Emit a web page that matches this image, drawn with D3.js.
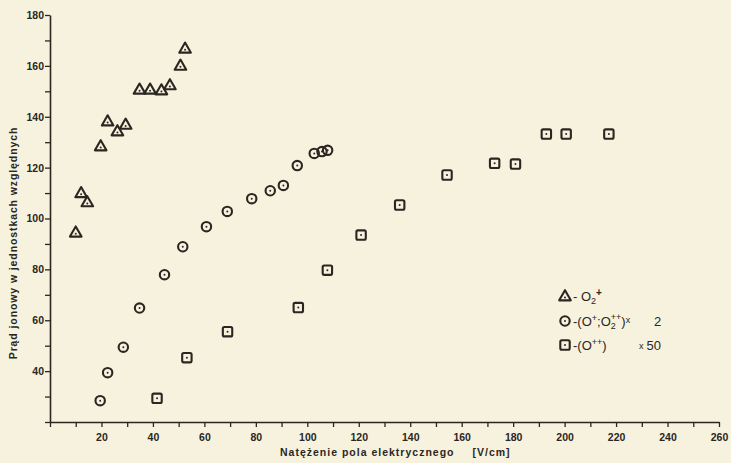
<!DOCTYPE html>
<html><head><meta charset="utf-8">
<script src="https://cdn.jsdelivr.net/npm/d3@7"></script>
<style>
html,body{margin:0;padding:0;background:#f7f2de;}
svg{display:block;}
</style></head>
<body>
<svg id="chart" width="731" height="463"></svg>
<script>
// O2+ (triangles)
const triX = [10, 12.1, 14.5, 19.7, 22.4, 26.2, 29.4, 34.8, 38.9, 43.3, 46.6, 50.7, 52.5];
const triY = [94.6, 110.1, 106.5, 128.5, 138.3, 134.4, 137, 150.8, 150.8, 150.5, 152.5, 160.2, 166.9];
// (O+, O2++) x 2 (circles)
const cirX = [19.5, 22.4, 28.5, 34.8, 44.5, 51.6, 60.8, 68.9, 78.4, 85.6, 90.7, 96.1, 102.7, 105.7, 107.9];
const cirY = [28.4, 39.4, 49.4, 64.8, 77.9, 88.9, 96.8, 102.8, 107.8, 110.9, 113.0, 120.8, 125.6, 126.3, 126.8];
// (O++) x 50 (squares)
const sqX = [41.6, 53.2, 69.0, 96.5, 107.8, 120.9, 135.9, 154.3, 172.8, 180.9, 192.9, 200.6, 217.2];
const sqY = [29.3, 45.3, 55.5, 65.0, 79.7, 93.5, 105.3, 117.1, 121.7, 121.4, 133.2, 133.2, 133.2];
const xTicks = d3.range(0, 261, 10);
const xLabels = [20,40,60,80,100,120,140,160,180,200,220,240,260];
const yTicks = d3.range(20, 181, 10);
const yLabels = [40,60,80,100,120,140,160,180];

const ink = "#2a2622";
const svg = d3.select("#chart");
const x = d3.scaleLinear().domain([0, 260]).range([50, 719]);
const y = d3.scaleLinear().domain([20, 180]).range([422, 15]);

const font = "'Liberation Sans', Arial, sans-serif";

// axes
const gx = svg.append("g").attr("transform", `translate(0,${y(20)})`)
  .call(d3.axisBottom(x).tickValues(xTicks).tickSize(5).tickSizeOuter(0)
    .tickFormat(d => xLabels.includes(d) ? d : ""));
const gy = svg.append("g").attr("transform", `translate(${x(0)},0)`)
  .call(d3.axisLeft(y).tickValues(yTicks).tickSize(5).tickSizeOuter(0)
    .tickFormat(d => yLabels.includes(d) ? d : ""));
[gx, gy].forEach(g => {
  g.select(".domain").attr("stroke", ink).attr("stroke-width", 1.6);
  g.selectAll(".tick line").attr("stroke", ink).attr("stroke-width", 1.3);
  g.selectAll(".tick text").attr("fill", ink).attr("font-family", font)
    .attr("font-weight", "bold").attr("font-size", 10.5);
});
gx.selectAll(".tick text").attr("dy", "1.05em");
gy.selectAll(".tick text").attr("x", -6);

// axis titles
const xt = svg.append("text").attr("x", 280).attr("y", 456)
  .attr("font-family", font).attr("font-weight", "bold").attr("font-size", 10.5)
  .attr("letter-spacing", 1).attr("fill", ink);
xt.append("tspan").text("Natężenie pola elektrycznego");
xt.append("tspan").attr("dx", 18).text("[V/cm]");
svg.append("text").attr("transform", "translate(17,243) rotate(-90)")
  .attr("text-anchor", "middle").attr("font-family", font).attr("font-weight", "bold")
  .attr("font-size", 10.5).attr("letter-spacing", 0.9).attr("fill", ink)
  .text("Prąd jonowy w jednostkach względnych");

// markers
function tri(g, cx, cy) {
  const s = 5.8;
  g.append("path").attr("d", `M${cx},${cy - s}L${cx + s},${cy + s * 0.75}L${cx - s},${cy + s * 0.75}Z`)
    .attr("fill", "none").attr("stroke", ink).attr("stroke-width", 2.1).attr("stroke-linejoin", "round");
  g.append("circle").attr("cx", cx).attr("cy", cy + 1.5).attr("r", 1).attr("fill", ink);
}
function cir(g, cx, cy) {
  g.append("circle").attr("cx", cx).attr("cy", cy).attr("r", 4.7)
    .attr("fill", "none").attr("stroke", ink).attr("stroke-width", 2.1);
  g.append("circle").attr("cx", cx).attr("cy", cy).attr("r", 1).attr("fill", ink);
}
function sq(g, cx, cy) {
  g.append("rect").attr("x", cx - 4.7).attr("y", cy - 4.7).attr("width", 9.4).attr("height", 9.4)
    .attr("rx", 1.5).attr("fill", "none").attr("stroke", ink).attr("stroke-width", 2.1);
  g.append("circle").attr("cx", cx).attr("cy", cy).attr("r", 1).attr("fill", ink);
}
const gT = svg.append("g"), gC = svg.append("g"), gS = svg.append("g");
triX.forEach((v, i) => tri(gT, x(v), y(triY[i])));
cirX.forEach((v, i) => cir(gC, x(v), y(cirY[i])));
sqX.forEach((v, i) => sq(gS, x(v), y(sqY[i])));

// legend
const lg = svg.append("g").attr("font-family", font).attr("fill", ink).attr("font-size", 13);
tri(lg, 565, 296);
cir(lg, 565, 321);
sq(lg, 565, 345);
const t1 = lg.append("text").attr("x", 573).attr("y", 301);
t1.append("tspan").text("- O");
t1.append("tspan").attr("font-size", 9).attr("dy", 3).text("2");
t1.append("tspan").attr("font-size", 10).attr("dy", -8).attr("font-weight", "bold").text("+");
const t2 = lg.append("text").attr("x", 573).attr("y", 326);
t2.append("tspan").text("-(O");
t2.append("tspan").attr("font-size", 9).attr("dy", -5).text("+");
t2.append("tspan").attr("dy", 5).text(";O");
t2.append("tspan").attr("font-size", 9).attr("dy", 3).text("2");
t2.append("tspan").attr("font-size", 9).attr("dx", -5).attr("dy", -9).text("++");
t2.append("tspan").attr("dy", 6).text(")");
t2.append("tspan").attr("font-size", 9).attr("dy", -3).text("x");
t2.append("tspan").attr("x", 654).attr("dy", 3).text("2");
const t3 = lg.append("text").attr("x", 573).attr("y", 350);
t3.append("tspan").text("-(O");
t3.append("tspan").attr("font-size", 9).attr("dy", -5).text("++");
t3.append("tspan").attr("dy", 5).text(")");
t3.append("tspan").attr("font-size", 9).attr("x", 639).attr("dy", -1).text("x");
t3.append("tspan").attr("dx", 3).attr("dy", 1).text("50");
</script>
</body></html>
